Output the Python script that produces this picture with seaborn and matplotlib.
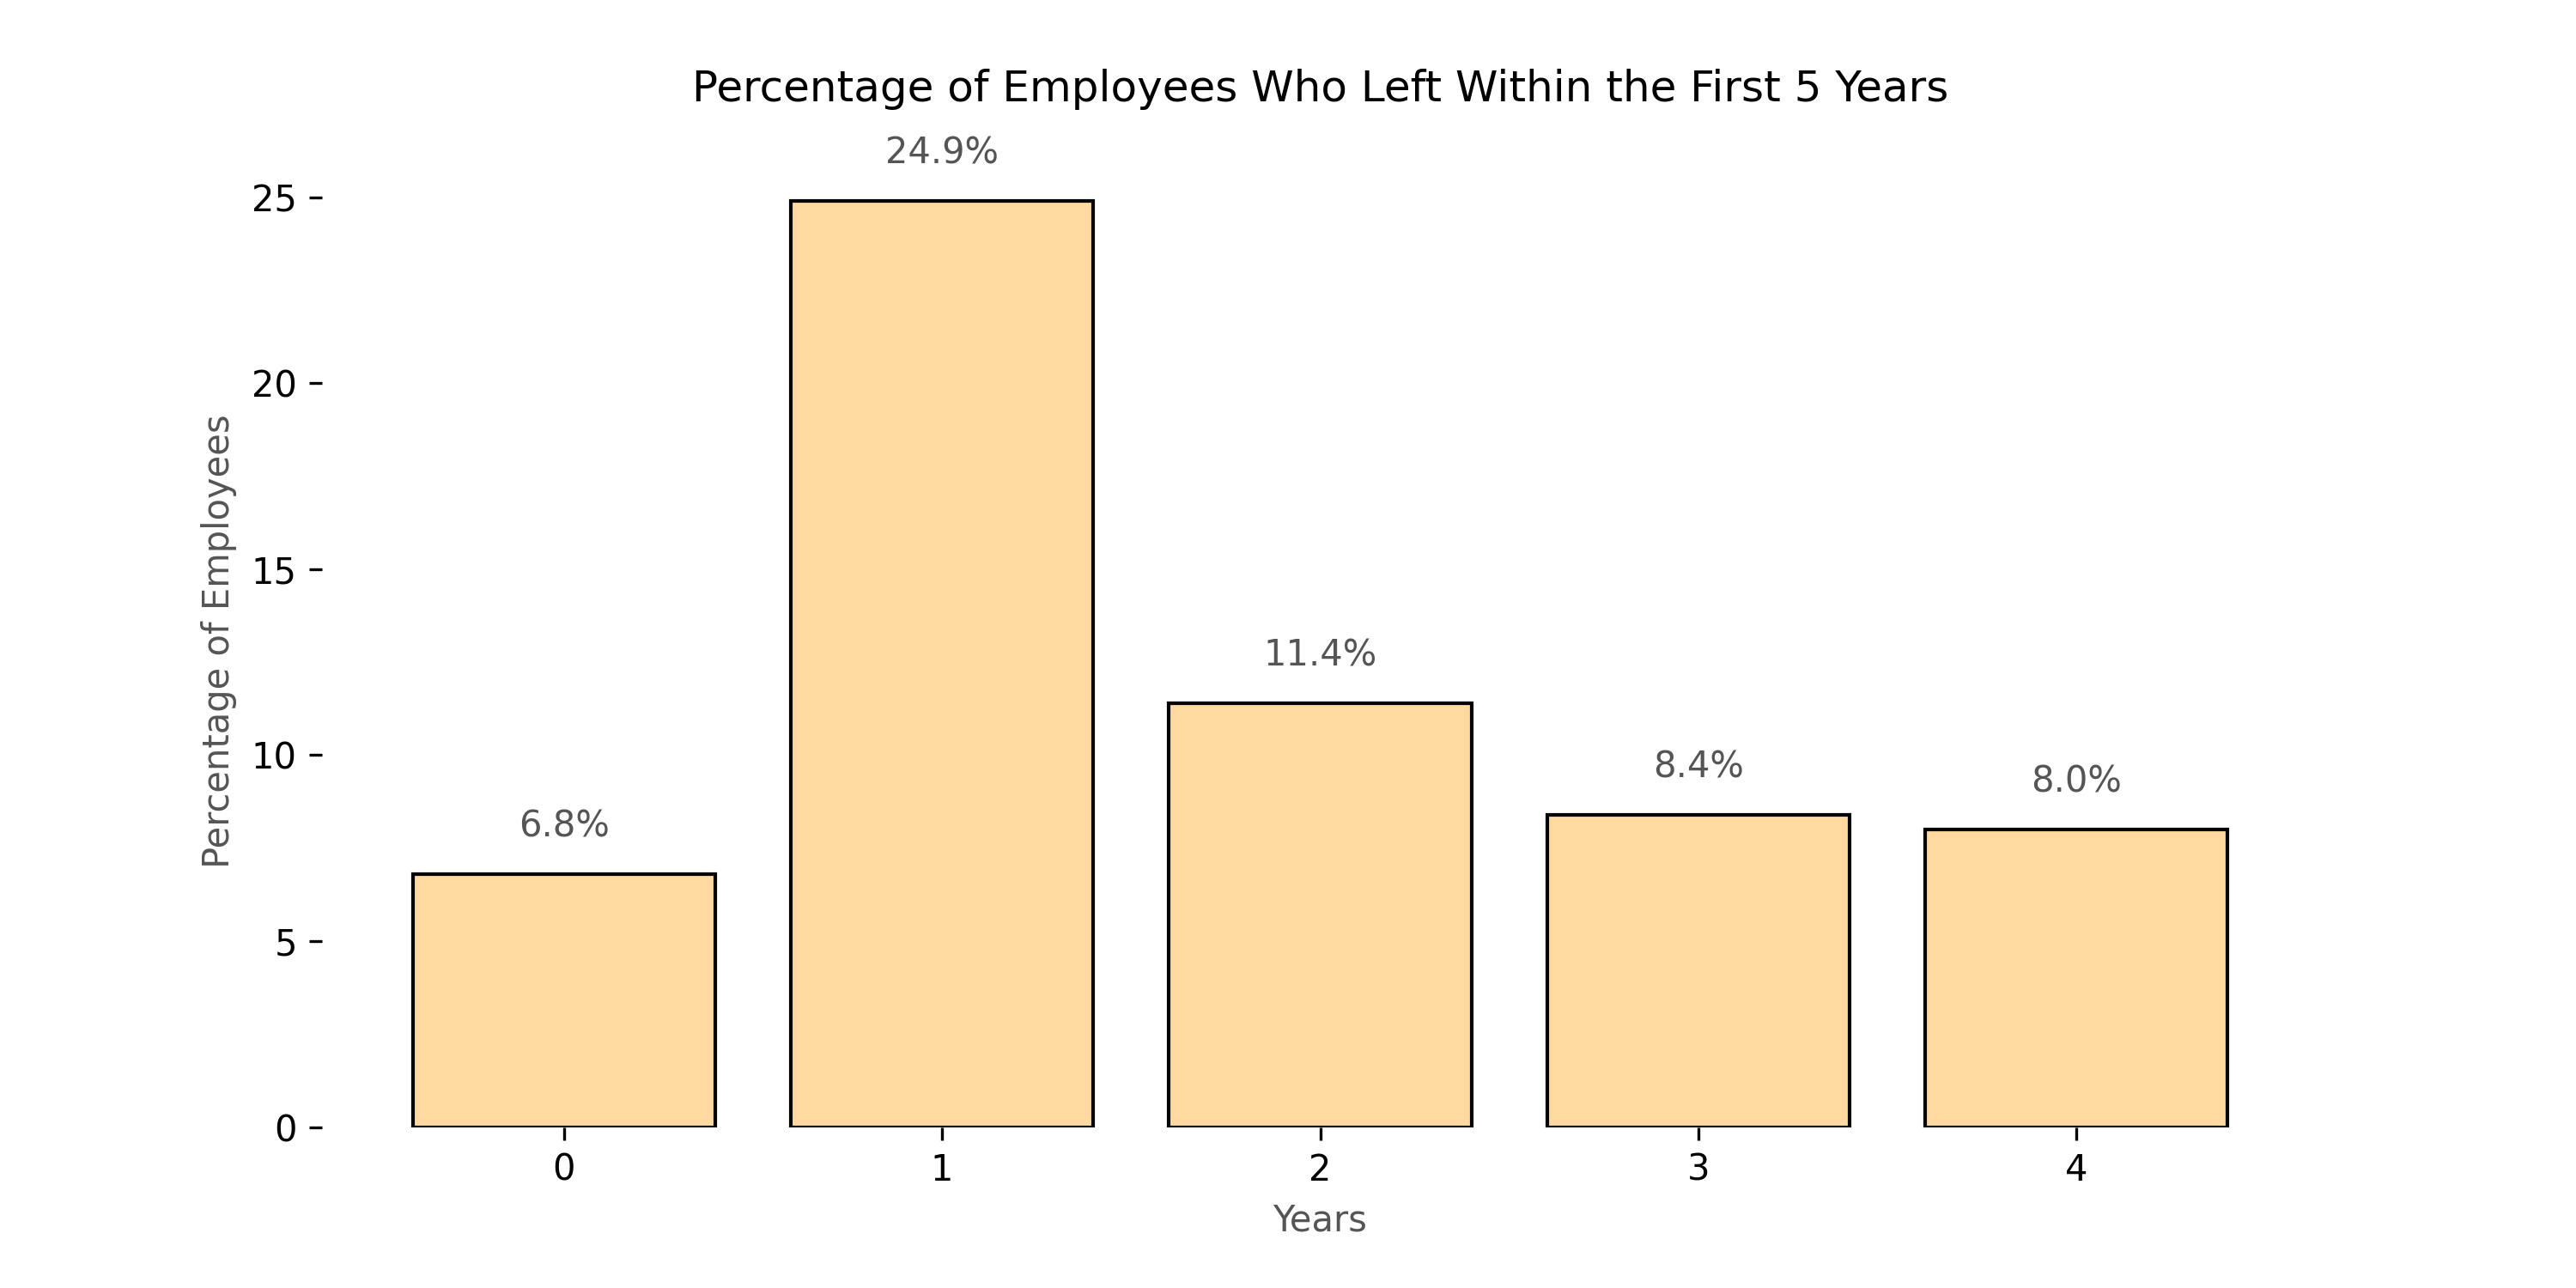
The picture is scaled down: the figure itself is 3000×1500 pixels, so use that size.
import matplotlib
matplotlib.use("Agg")
import matplotlib.pyplot as plt
import seaborn as sns
import pandas as pd

# data
years = [0, 1, 2, 3, 4]
pct_left = [6.8, 24.9, 11.4, 8.4, 8.0]

df = pd.DataFrame({"Years": years, "Percentage": pct_left})

fig, ax = plt.subplots(figsize=(10, 5), dpi=300)
fig.subplots_adjust(left=0.125, right=0.9, bottom=0.125, top=0.88)

sns.barplot(data=df, x="Years", y="Percentage", color="#FFD9A0", saturation=1,
            edgecolor="black", linewidth=1, width=0.8, ax=ax)

for i, v in enumerate(pct_left):
    ax.text(i, v + 0.8, f"{v:.1f}%", ha="center", va="bottom", fontsize=10, color="#555555")

ax.set_title("Percentage of Employees Who Left Within the First 5 Years", fontsize=12, pad=15)
ax.set_xlabel("Years", color="#555555", fontsize=10)
ax.set_ylabel("Percentage of Employees", color="#555555", fontsize=10)
ax.set_ylim(0, 26.15)
ax.set_xlim(-0.64, 4.64)
for s in ax.spines.values():
    s.set_visible(False)

fig.savefig("out.png", dpi=300)
